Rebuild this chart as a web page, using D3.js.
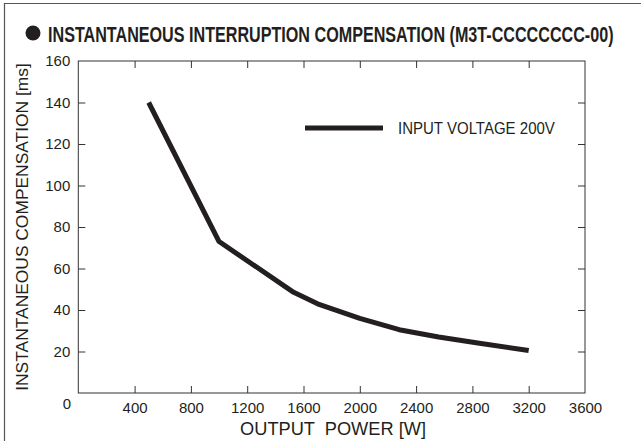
<!DOCTYPE html>
<html><head><meta charset="utf-8">
<script src="https://cdn.jsdelivr.net/npm/d3@7"></script>
<style>body{margin:0;background:#fff}svg{display:block}</style>
</head><body>
<script>
const powerW = [500, 1000, 1530, 1700, 2000, 2280, 2560, 2850, 3200];
const compMs = [140, 73, 48.5, 43, 36, 30.5, 27, 24, 20.5];
const xTicks = [400, 800, 1200, 1600, 2000, 2400, 2800, 3200, 3600];
const yTicks = [20, 40, 60, 80, 100, 120, 140, 160];
const titleText = "INSTANTANEOUS INTERRUPTION COMPENSATION (M3T-CCCCCCCC-00)";
const xTitle = "OUTPUT  POWER [W]";
const yTitle = "INSTANTANEOUS COMPENSATION [ms]";
const legendLabel = "INPUT VOLTAGE 200V";

(function () {
const W = 641, H = 441;
const m = {l: 78.3, r: 585, t: 61, b: 393};
const font = "'Liberation Sans', Arial, sans-serif";
const ink = "#231f20";

const svg = d3.select("body").append("svg").attr("width", W).attr("height", H);

function fitText(transform, str, targetW, size, opts) {
  const grp = svg.append("g").attr("transform", transform);
  const t = grp.append("text").attr("font-family", font).attr("font-size", size).attr("fill", ink)
    .attr("text-anchor", opts.anchor || "start").attr("font-weight", opts.bold ? "bold" : "normal")
    .style("white-space", "pre").text(str);
  const w = t.node().getComputedTextLength();
  const s = targetW / w;
  t.attr("font-size", size * s);
  grp.attr("transform", transform + ` scale(1,${1 / s})`);
  return t;
}

svg.append("line").attr("x1", 4).attr("x2", W).attr("y1", 3.5).attr("y2", 3.5).attr("stroke", "#555").attr("stroke-width", 1.2);
svg.append("line").attr("x1", 4.5).attr("x2", 4.5).attr("y1", 3).attr("y2", H).attr("stroke", "#555").attr("stroke-width", 1.2);

svg.append("circle").attr("cx", 33).attr("cy", 33).attr("r", 7.5).attr("fill", ink);
fitText("translate(48,41.5)", titleText, 566, 22, {bold: true});

const x = d3.scaleLinear().domain([0, 3600]).range([m.l, m.r]);
const y = d3.scaleLinear().domain([0, 160]).range([m.b, m.t]);

const g = svg.append("g");
g.append("rect").attr("x", m.l).attr("y", m.t).attr("width", m.r - m.l).attr("height", m.b - m.t)
  .attr("fill", "none").attr("stroke", "#333").attr("stroke-width", 1);

const styleAxis = sel => {
  sel.select(".domain").remove();
  sel.selectAll(".tick line").attr("stroke", "#333");
  sel.selectAll(".tick text").attr("font-family", font).attr("font-size", 15).attr("fill", ink);
};
const axB = g.append("g").attr("transform", `translate(0,${m.b})`)
  .call(d3.axisBottom(x).tickValues(xTicks).tickSizeInner(-7).tickSizeOuter(0).tickPadding(9).tickFormat(d3.format("d")));
styleAxis(axB);
axB.selectAll(".tick").filter(d => d === 3600).select("line").remove();
const axT = g.append("g").attr("transform", `translate(0,${m.t})`)
  .call(d3.axisTop(x).tickValues(xTicks.filter(d => d < 3600)).tickSize(-7).tickFormat(""));
styleAxis(axT);
const axL = g.append("g").attr("transform", `translate(${m.l},0)`)
  .call(d3.axisLeft(y).tickValues(yTicks).tickSizeInner(-7).tickSizeOuter(0).tickPadding(8).tickFormat(d3.format("d")));
styleAxis(axL);
axL.selectAll(".tick").filter(d => d === 160).select("line").remove();
const axR = g.append("g").attr("transform", `translate(${m.r},0)`)
  .call(d3.axisRight(y).tickValues(yTicks.filter(d => d < 160)).tickSize(-7).tickFormat(""));
styleAxis(axR);

svg.append("text").attr("x", 67).attr("y", 408.5).attr("text-anchor", "middle")
  .attr("font-family", font).attr("font-size", 15).attr("fill", ink).text("0");

fitText("translate(333,435)", xTitle, 186, 17.5, {anchor: "middle"});
fitText(`translate(28,${(m.t + m.b) / 2}) rotate(-90)`, yTitle, 328, 17, {anchor: "middle"});

const data = powerW.map((p, i) => [p, compMs[i]]);
g.append("path").datum(data).attr("fill", "none").attr("stroke", ink).attr("stroke-width", 5).attr("stroke-linejoin", "round")
  .attr("d", d3.line().x(d => x(d[0])).y(d => y(d[1])));

svg.append("line").attr("x1", 305).attr("x2", 383).attr("y1", 128).attr("y2", 128).attr("stroke", ink).attr("stroke-width", 5);
fitText("translate(398,134)", legendLabel, 157, 17, {});
})();
</script>
</body></html>
